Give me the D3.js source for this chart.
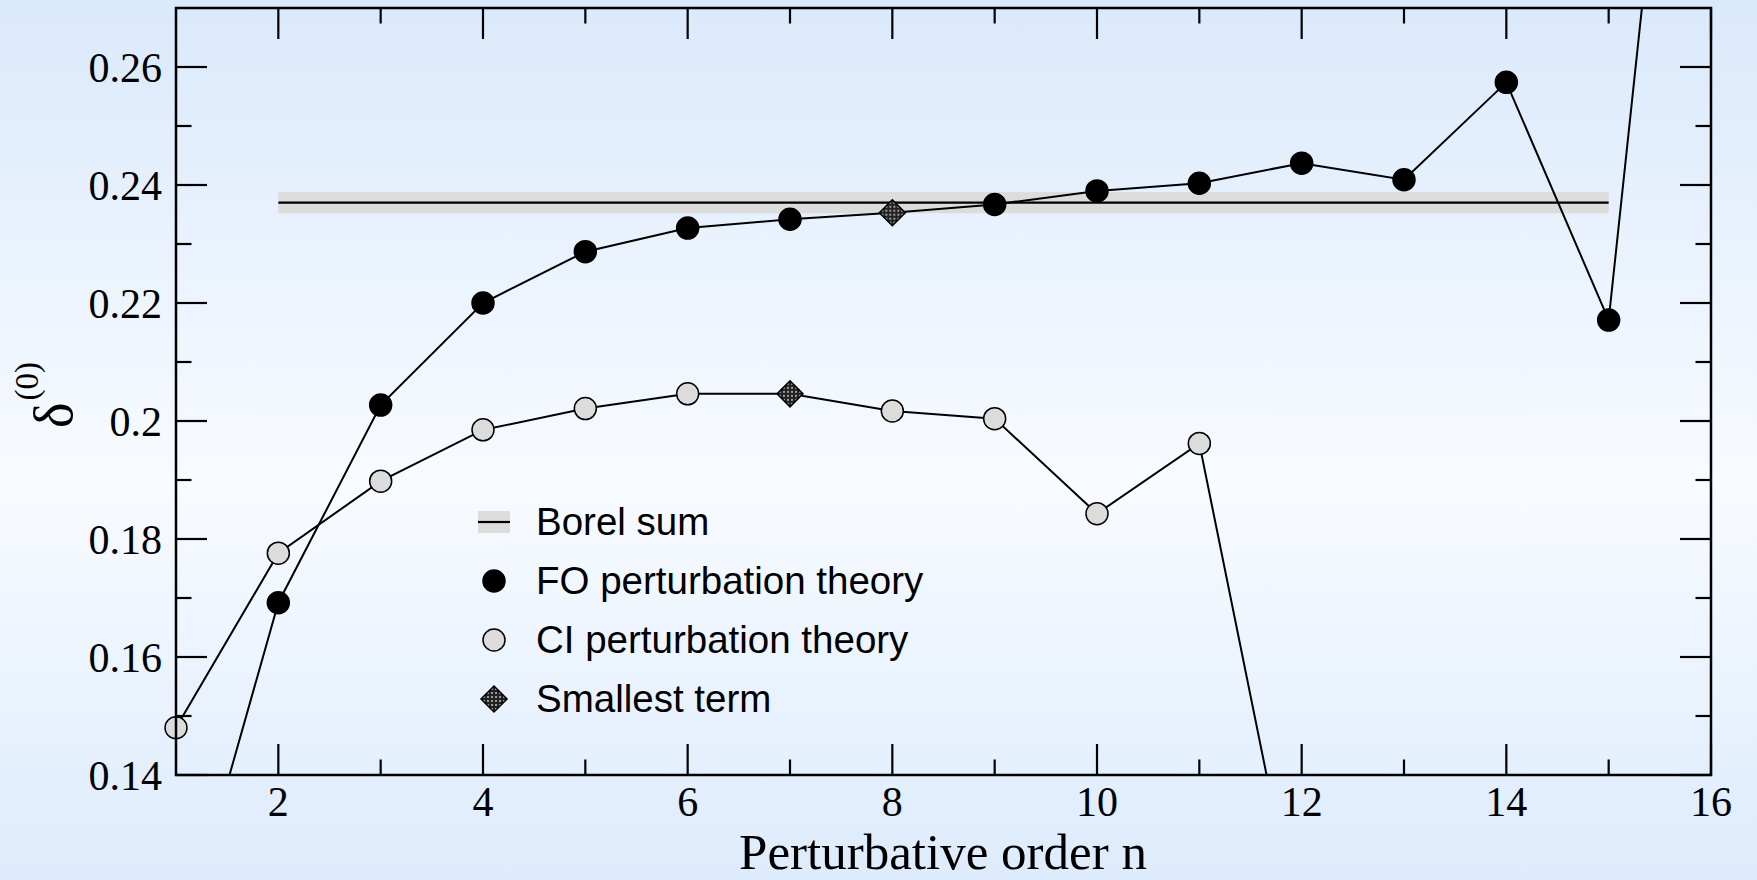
<!DOCTYPE html>
<html>
<head>
<meta charset="utf-8">
<script src="https://cdn.jsdelivr.net/npm/d3@7"></script>
<style>
  html, body { margin: 0; padding: 0; }
  body { width: 1757px; height: 880px; overflow: hidden; }
</style>
</head>
<body>
<div id="chart"></div>
<script>
// values
const orders = [1, 2, 3, 4, 5, 6, 7, 8, 9, 10, 11, 12, 13, 14, 15, 16];
const foValues = [0.108, 0.1692, 0.2027, 0.2200, 0.2287, 0.2327, 0.2342, 0.2353, 0.2367, 0.2390, 0.2403, 0.2437, 0.2409, 0.2574, 0.2171, 0.380];
const ciOrders = [1, 2, 3, 4, 5, 6, 7, 8, 9, 10, 11, 12];
const ciValues = [0.148, 0.1776, 0.1898, 0.1985, 0.2021, 0.2046, 0.2046, 0.2017, 0.2004, 0.1843, 0.1962, 0.1107];
const borelRange = [2, 15];
const borelValue = 0.2370;
const borelError = 0.0018;
const smallestFO = 8;
const smallestCI = 7;
const xTicks = [2, 4, 6, 8, 10, 12, 14, 16];
const yTicks = [0.14, 0.16, 0.18, 0.2, 0.22, 0.24, 0.26];
const legendLabels = ['Borel sum', 'FO perturbation theory', 'CI perturbation theory', 'Smallest term'];

const width = 1757;
const height = 880;
const plot = { left: 176, right: 1711, top: 8, bottom: 775 };

const svg = d3.select('#chart')
  .append('svg')
  .attr('width', width)
  .attr('height', height);

const defs = svg.append('defs');

// background: light blue at the edges, almost white in the middle
const grad = defs.append('linearGradient')
  .attr('id', 'bg')
  .attr('x1', 0).attr('y1', 0).attr('x2', 0).attr('y2', 1);
grad.append('stop').attr('offset', '0%').attr('stop-color', '#dae9fb');
grad.append('stop').attr('offset', '55%').attr('stop-color', '#f8fbff');
grad.append('stop').attr('offset', '100%').attr('stop-color', '#ddebfc');

// hatched fill for the "smallest term" diamond
const hatch = defs.append('pattern')
  .attr('id', 'hatch')
  .attr('patternUnits', 'userSpaceOnUse')
  .attr('width', 4).attr('height', 4);
hatch.append('rect').attr('width', 4).attr('height', 4).attr('fill', '#222');
hatch.append('rect').attr('x', 1).attr('y', 1).attr('width', 2).attr('height', 2).attr('fill', '#9a9a9a');

defs.append('clipPath')
  .attr('id', 'plot-clip')
  .append('rect')
  .attr('x', plot.left).attr('y', plot.top)
  .attr('width', plot.right - plot.left)
  .attr('height', plot.bottom - plot.top);

svg.append('rect')
  .attr('width', width)
  .attr('height', height)
  .attr('fill', 'url(#bg)');

const x = d3.scaleLinear().domain([1, 16]).range([plot.left, plot.right]);
const y = d3.scaleLinear().domain([0.14, 0.27]).range([plot.bottom, plot.top]);

// ticks on all four sides, pointing inwards
const majorLen = 31;
const minorLen = 15.5;
const xMinor = d3.range(3, 16, 2);
const yMinor = d3.range(0.15, 0.265, 0.02);

const axisGroup = svg.append('g')
  .attr('stroke', '#000')
  .attr('stroke-width', 2.2);

const drawXTicks = (vals, len) => {
  vals.forEach(v => {
    axisGroup.append('line')
      .attr('x1', x(v)).attr('x2', x(v))
      .attr('y1', plot.bottom).attr('y2', plot.bottom - len);
    axisGroup.append('line')
      .attr('x1', x(v)).attr('x2', x(v))
      .attr('y1', plot.top).attr('y2', plot.top + len);
  });
};
const drawYTicks = (vals, len) => {
  vals.forEach(v => {
    axisGroup.append('line')
      .attr('y1', y(v)).attr('y2', y(v))
      .attr('x1', plot.left).attr('x2', plot.left + len);
    axisGroup.append('line')
      .attr('y1', y(v)).attr('y2', y(v))
      .attr('x1', plot.right).attr('x2', plot.right - len);
  });
};
drawXTicks(xTicks, majorLen);
drawXTicks(xMinor, minorLen);
drawYTicks(yTicks, majorLen);
drawYTicks(yMinor, minorLen);

// tick labels
svg.append('g')
  .attr('font-family', '"Liberation Serif", "Times New Roman", serif')
  .attr('font-size', 42)
  .attr('text-anchor', 'end')
  .selectAll('text')
  .data(yTicks)
  .enter().append('text')
  .attr('x', plot.left - 14)
  .attr('y', d => y(d))
  .attr('dy', '0.35em')
  .text(d => d3.format('.2~f')(d));

svg.append('g')
  .attr('font-family', '"Liberation Serif", "Times New Roman", serif')
  .attr('font-size', 42)
  .attr('text-anchor', 'middle')
  .selectAll('text')
  .data(xTicks)
  .enter().append('text')
  .attr('x', d => x(d))
  .attr('y', 816)
  .text(d => d);

// axis titles
svg.append('text')
  .attr('x', 943)
  .attr('y', 869)
  .attr('font-family', '"Liberation Serif", "Times New Roman", serif')
  .attr('font-size', 51)
  .attr('text-anchor', 'middle')
  .text('Perturbative order n');

const yLabel = svg.append('text')
  .attr('transform', 'translate(72,428) rotate(-90)')
  .attr('font-family', '"Liberation Serif", "Times New Roman", serif')
  .attr('font-size', 54);
yLabel.append('tspan').text('δ');
yLabel.append('tspan').attr('font-size', 33).attr('dy', -34).attr('dx', 2).text('(0)');

// Borel sum band and line
const bandGroup = svg.append('g').attr('clip-path', 'url(#plot-clip)');
bandGroup.append('rect')
  .attr('x', x(borelRange[0]))
  .attr('width', x(borelRange[1]) - x(borelRange[0]))
  .attr('y', y(borelValue + borelError))
  .attr('height', y(borelValue - borelError) - y(borelValue + borelError))
  .attr('fill', '#dcdcdc');
bandGroup.append('line')
  .attr('x1', x(borelRange[0])).attr('x2', x(borelRange[1]))
  .attr('y1', y(borelValue)).attr('y2', y(borelValue))
  .attr('stroke', '#000')
  .attr('stroke-width', 2.2);

// series lines
const line = d3.line().x(d => x(d[0])).y(d => y(d[1]));
const foData = orders.map((n, i) => [n, foValues[i]]);
const ciData = ciOrders.map((n, i) => [n, ciValues[i]]);

const lineGroup = svg.append('g')
  .attr('clip-path', 'url(#plot-clip)')
  .attr('fill', 'none')
  .attr('stroke', '#000')
  .attr('stroke-width', 2);
lineGroup.append('path').attr('d', line(foData));
lineGroup.append('path').attr('d', line(ciData));

// markers (not clipped, the n=1 marker sits on the frame)
const inside = d => d[1] >= 0.14 && d[1] <= 0.27;
const diamond = r => `M0,${-r}L${r},0L0,${r}L${-r},0Z`;

const drawMarkers = (data, fill, smallest) => {
  const g = svg.append('g').attr('stroke', '#000').attr('stroke-width', 1.5);
  data.filter(inside).forEach(d => {
    if (d[0] === smallest) {
      g.append('path')
        .attr('transform', `translate(${ x(d[0]) },${ y(d[1]) })`)
        .attr('d', diamond(13))
        .attr('fill', 'url(#hatch)');
    } else {
      g.append('circle')
        .attr('cx', x(d[0]))
        .attr('cy', y(d[1]))
        .attr('r', 11)
        .attr('fill', fill);
    }
  });
};
drawMarkers(foData, '#000', smallestFO);
drawMarkers(ciData, '#dcdcdc', smallestCI);

// frame
svg.append('rect')
  .attr('x', plot.left).attr('y', plot.top)
  .attr('width', plot.right - plot.left)
  .attr('height', plot.bottom - plot.top)
  .attr('fill', 'none')
  .attr('stroke', '#000')
  .attr('stroke-width', 2.5);

// legend
const legendX = 494;
const legendTextX = 536;
const legendRowY = [522, 581, 640, 699];

const legend = svg.append('g')
  .attr('font-family', '"Liberation Sans", Arial, sans-serif')
  .attr('font-size', 38.5);

legend.selectAll('text')
  .data(legendLabels)
  .enter().append('text')
  .attr('x', legendTextX)
  .attr('y', (d, i) => legendRowY[i])
  .attr('dy', '0.35em')
  .text(d => d);

legend.append('rect')
  .attr('x', legendX - 16).attr('y', legendRowY[0] - 11)
  .attr('width', 32).attr('height', 22)
  .attr('fill', '#dcdcdc');
legend.append('line')
  .attr('x1', legendX - 16).attr('x2', legendX + 16)
  .attr('y1', legendRowY[0]).attr('y2', legendRowY[0])
  .attr('stroke', '#000').attr('stroke-width', 2.2);
legend.append('circle')
  .attr('cx', legendX).attr('cy', legendRowY[1]).attr('r', 11)
  .attr('fill', '#000').attr('stroke', '#000').attr('stroke-width', 1.5);
legend.append('circle')
  .attr('cx', legendX).attr('cy', legendRowY[2]).attr('r', 11)
  .attr('fill', '#dcdcdc').attr('stroke', '#000').attr('stroke-width', 1.5);
legend.append('path')
  .attr('transform', `translate(${ legendX },${ legendRowY[3] })`)
  .attr('d', diamond(13))
  .attr('fill', 'url(#hatch)')
  .attr('stroke', '#000').attr('stroke-width', 1.5);
</script>
</body>
</html>
